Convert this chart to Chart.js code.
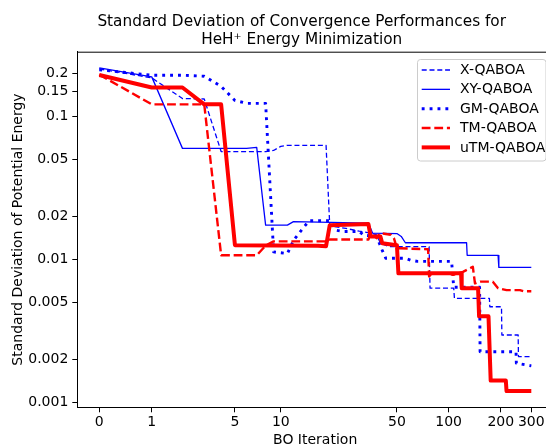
<!DOCTYPE html>
<html>
<head>
<meta charset="utf-8">
<script src="https://cdn.jsdelivr.net/npm/chart.js@4.4.1/dist/chart.umd.min.js"></script>
<style>
html, body { margin: 0; padding: 0; overflow: hidden; background: #fff; }
#wrap { position: absolute; left: 0; top: 0; width: 603px; height: 446px; }
</style>
</head>
<body>
<div id="wrap"><canvas id="chart" width="603" height="446"></canvas></div>
<script>
// x axis is log10(iteration + 1), these are the iterations that get a tick
const xTicks = [0, 1, 5, 10, 50, 100, 200, 300];
const yTicks = [0.001, 0.002, 0.005, 0.01, 0.02, 0.05, 0.1, 0.15, 0.2];
const titleLines = ['Standard Deviation of Convergence Performances for', 'HeH\u207A Energy Minimization'];

// X-QABOA
const itX = [0, 1, 2, 3, 4, 8, 9, 10, 11, 19, 20, 25, 30, 35, 38, 40, 45, 77, 78, 107, 108, 172, 173, 202, 203, 252, 253, 300];
const sdX = [0.216, 0.187, 0.134, 0.133, 0.057, 0.057, 0.058, 0.062, 0.063, 0.063, 0.0172, 0.0165, 0.0158, 0.0153, 0.0149, 0.013, 0.0123, 0.0123, 0.0063, 0.0063, 0.00535, 0.00535, 0.00467, 0.00467, 0.00296, 0.00296, 0.00209, 0.00209];

// XY-QABOA
const itXY = [0, 1, 2, 6, 7, 8, 11, 12, 34, 36, 50, 53, 56, 127, 128, 193, 195, 300];
const sdXY = [0.22, 0.19, 0.06, 0.06, 0.061, 0.0174, 0.0174, 0.0184, 0.018, 0.0153, 0.0152, 0.0145, 0.0131, 0.0131, 0.0107, 0.0107, 0.0088, 0.0088];

// GM-QABOA
const itGM = [0, 1, 2, 3, 4, 5, 6, 8, 9, 11, 12, 14, 15, 20, 22, 24, 30, 32, 38, 41, 43, 56, 60, 66, 104, 107, 151, 152, 245, 246, 300];
const sdGM = [0.213, 0.195, 0.195, 0.192, 0.163, 0.13, 0.124, 0.124, 0.0113, 0.011, 0.0136, 0.017, 0.0187, 0.0187, 0.016, 0.0157, 0.0157, 0.0148, 0.0145, 0.0116, 0.0102, 0.0102, 0.0099, 0.0097, 0.0097, 0.0064, 0.0064, 0.00226, 0.00226, 0.00188, 0.0018];

// TM-QABOA
const itTM = [0, 1, 3, 4, 7, 8, 9, 19, 20, 34, 35, 38, 40, 46, 48, 50, 76, 77, 80, 101, 106, 121, 138, 142, 152, 180, 193, 216, 258, 270, 300];
const sdTM = [0.197, 0.122, 0.122, 0.0107, 0.0107, 0.0125, 0.0134, 0.0134, 0.0138, 0.0138, 0.0153, 0.0141, 0.0153, 0.0149, 0.0141, 0.012, 0.0118, 0.0076, 0.008, 0.008, 0.0078, 0.0082, 0.0089, 0.0068, 0.007, 0.007, 0.0063, 0.0061, 0.0061, 0.006, 0.006];

// uTM-QABOA
const itUTM = [0, 1, 2, 3, 4, 5, 17, 19, 20, 34, 35, 40, 41, 50, 51, 118, 119, 148, 150, 170, 175, 214, 216, 300];
const sdUTM = [0.196, 0.16, 0.16, 0.122, 0.122, 0.0126, 0.0125, 0.0124, 0.0174, 0.0177, 0.0145, 0.0145, 0.013, 0.0126, 0.008, 0.008, 0.0063, 0.0063, 0.004, 0.004, 0.00142, 0.00142, 0.0012, 0.0012];

const toPoints = (its, vals) => its.map((it, i) => ({ x: Math.log10(it + 1), y: vals[i] }));

const series = [
    { label: 'X-QABOA', its: itX, vals: sdX, color: '#0000ff', width: 1.3, dash: [5, 2.8] },
    { label: 'XY-QABOA', its: itXY, vals: sdXY, color: '#0000ff', width: 1.3, dash: [] },
    { label: 'GM-QABOA', its: itGM, vals: sdGM, color: '#0000ff', width: 2.9, dash: [2.9, 5] },
    { label: 'TM-QABOA', its: itTM, vals: sdTM, color: '#ff0000', width: 2.4, dash: [8.8, 3.8] },
    { label: 'uTM-QABOA', its: itUTM, vals: sdUTM, color: '#ff0000', width: 4, dash: [] },
];

const font = 'DejaVu Sans';

// title, legend box and top/right spines (matplotlib style)
const framePlugin = {
    id: 'frame',
    afterDatasetsDraw(chart) {
        const { ctx, chartArea: a } = chart;
        ctx.save();
        ctx.strokeStyle = '#000';
        ctx.lineWidth = 1;
        ctx.beginPath();
        ctx.moveTo(a.left, a.top + 0.5);
        ctx.lineTo(a.right, a.top + 0.5);
        ctx.lineTo(a.right, a.bottom);
        ctx.stroke();

        ctx.fillStyle = '#000';
        ctx.font = '15.3px "' + font + '"';
        ctx.textAlign = 'center';
        ctx.textBaseline = 'middle';
        titleLines.forEach((t, i) => ctx.fillText(t, 301.7, 22 + i * 18.3));

        const bx = 417.5, by = 59.5, bw = a.right - 7 - bx, bh = 101.5;
        ctx.fillStyle = 'rgba(255,255,255,0.8)';
        ctx.strokeStyle = '#cccccc';
        ctx.beginPath();
        ctx.roundRect(bx, by, bw, bh, 3);
        ctx.fill();
        ctx.stroke();

        ctx.font = '14px "' + font + '"';
        ctx.textAlign = 'left';
        series.forEach((s, i) => {
            const y = 70 + i * 19.35;
            ctx.strokeStyle = s.color;
            ctx.lineWidth = s.width;
            ctx.setLineDash(s.dash);
            ctx.lineCap = 'butt';
            ctx.beginPath();
            ctx.moveTo(421.7, y);
            ctx.lineTo(450, y);
            ctx.stroke();
            ctx.setLineDash([]);
            ctx.fillStyle = '#000';
            ctx.fillText(s.label, 460, y + 0.5);
        });
        ctx.restore();
    }
};

new Chart(document.getElementById('chart'), {
    type: 'line',
    data: {
        datasets: series.map((s, i) => ({
            label: s.label,
            data: toPoints(s.its, s.vals),
            borderColor: s.color,
            borderWidth: s.width,
            borderDash: s.dash,
            borderCapStyle: 'butt',
            borderJoinStyle: 'round',
            pointRadius: 0,
            tension: 0,
            fill: false,
            order: series.length - 1 - i
        }))
    },
    options: {
        responsive: false,
        animation: false,
        layout: { padding: { left: 0, right: 50, top: 51.7, bottom: 0 } },
        plugins: {
            legend: { display: false },
            tooltip: { enabled: false },
            title: { display: false }
        },
        scales: {
            x: {
                type: 'linear',
                min: -0.1262,
                max: 2.603,
                afterBuildTicks: (scale) => { scale.ticks = xTicks.map(t => ({ value: Math.log10(t + 1) })); },
                afterFit: (scale) => { scale.height = 38.7; },
                ticks: {
                    autoSkip: false,
                    maxRotation: 0,
                    padding: 2,
                    color: '#000',
                    font: { family: font, size: 14 },
                    callback: (v, i) => String(xTicks[i])
                },
                grid: { drawOnChartArea: false, drawTicks: true, tickLength: 5, color: '#000' },
                border: { display: true, color: '#000', width: 1 },
                title: {
                    display: true,
                    text: 'BO Iteration',
                    color: '#000',
                    font: { family: font, size: 14, lineHeight: 1 },
                    padding: { top: 0, bottom: -1.5 }
                }
            },
            y: {
                type: 'logarithmic',
                min: 0.000923,
                max: 0.2851,
                afterBuildTicks: (scale) => { scale.ticks = yTicks.map(v => ({ value: v })); },
                afterFit: (scale) => { scale.width = 77.3; },
                ticks: {
                    autoSkip: false,
                    padding: 4,
                    color: '#000',
                    font: { family: font, size: 14 },
                    callback: (v, i) => String(yTicks[i])
                },
                grid: { drawOnChartArea: false, drawTicks: true, tickLength: 5, color: '#000' },
                border: { display: true, color: '#000', width: 1 },
                title: {
                    display: true,
                    text: 'Standard Deviation of Potential Energy',
                    color: '#000',
                    font: { family: font, size: 14 },
                    padding: { top: 10, bottom: 0 }
                }
            }
        }
    },
    plugins: [framePlugin]
});
</script>
</body>
</html>
